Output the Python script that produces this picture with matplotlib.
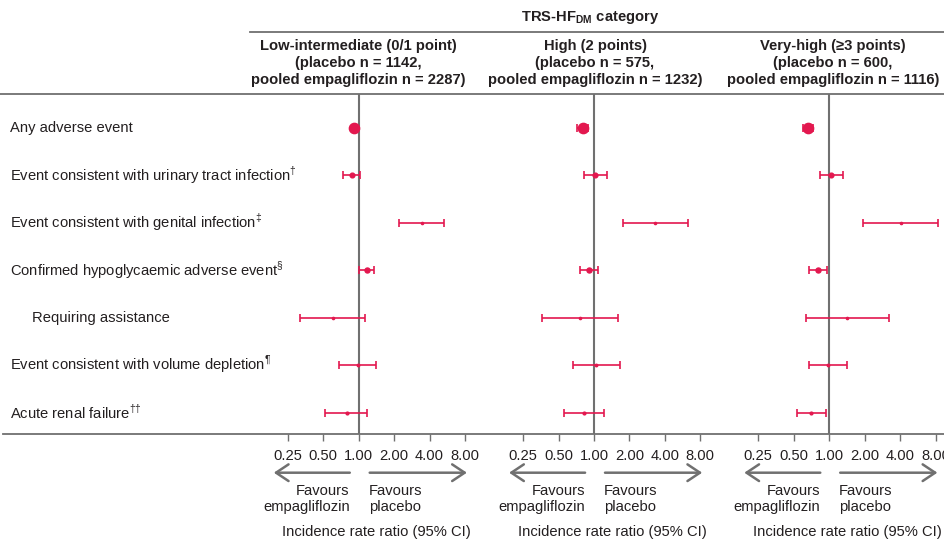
import matplotlib
matplotlib.use("Agg")
import matplotlib.pyplot as plt
from matplotlib.lines import Line2D
from matplotlib.transforms import blended_transform_factory

plt.rcParams['font.family'] = ['Liberation Sans', 'DejaVu Sans']
plt.rcParams['mathtext.fontset'] = 'custom'
plt.rcParams['mathtext.rm'] = 'Liberation Sans'
plt.rcParams['mathtext.bf'] = 'Liberation Sans:bold'

# ---------------- data ----------------
row_labels = ["Any adverse event",
              "Event consistent with urinary tract infection",
              "Event consistent with genital infection",
              "Confirmed hypoglycaemic adverse event",
              "Requiring assistance",
              "Event consistent with volume depletion",
              "Acute renal failure"]
row_marks = ["", "†", "‡", "§", "", "¶", "††"]
row_indent = [False, False, False, False, True, False, False]

panel_titles = ["Low-intermediate (0/1 point)\n(placebo n = 1142,\npooled empagliflozin n = 2287)",
                "High (2 points)\n(placebo n = 575,\npooled empagliflozin n = 1232)",
                "Very-high (≥3 points)\n(placebo n = 600,\npooled empagliflozin n = 1116)"]

low_irr = [0.92, 0.87, 3.45, 1.17, 0.60, 0.99, 0.79]
low_lo = [0.89, 0.74, 2.21, 1.01, 0.32, 0.68, 0.52]
low_hi = [0.95, 1.03, 5.34, 1.34, 1.14, 1.39, 1.18]

high_irr = [0.80, 1.02, 3.30, 0.90, 0.76, 1.03, 0.82]
high_lo = [0.72, 0.82, 1.76, 0.76, 0.36, 0.66, 0.56]
high_hi = [0.89, 1.29, 6.25, 1.08, 1.60, 1.65, 1.22]

vhigh_irr = [0.66, 1.04, 4.04, 0.80, 1.41, 0.97, 0.70]
vhigh_lo = [0.60, 0.83, 1.92, 0.67, 0.63, 0.67, 0.53]
vhigh_hi = [0.73, 1.31, 8.43, 0.955, 3.19, 1.41, 0.94]

tick_values = [0.25, 0.5, 1, 2, 4, 8]
tick_labels = ["0.25", "0.50", "1.00", "2.00", "4.00", "8.00"]

panels = [(low_irr, low_lo, low_hi),
          (high_irr, high_lo, high_hi),
          (vhigh_irr, vhigh_lo, vhigh_hi)]

# ---------------- style ----------------
W, H = 944, 540
RED = '#E3184F'
GRAY = '#707070'
TXT = '#231F20'
FS = 10.6
marker_sizes = [7.4, 3.4, 1.6, 3.6, 1.6, 1.8, 2.0]

def fx(px):
    return px / W

def fy(py):
    return 1 - py / H

fig = plt.figure(figsize=(W / 100, H / 100), dpi=100)

one_px = [358.7, 594.0, 829.2]
half_w = 117.75
top_px, bot_px = 94, 434
title_cx = [358, 595, 833]

axes = []
for p, (irr, lo, hi) in enumerate(panels):
    ax = fig.add_axes([fx(one_px[p] - half_w), fy(bot_px), 2 * half_w / W, (bot_px - top_px) / H])
    ax.set_xscale('log', base=2)
    ax.set_xlim(0.1, 10)
    ax.set_ylim(6.45, -0.71)
    ax.axvline(1, color=GRAY, lw=1.5, zorder=1)
    for i in range(len(irr)):
        ax.errorbar([irr[i]], [i], xerr=[[irr[i] - lo[i]], [hi[i] - irr[i]]],
                    fmt='o', color=RED, ms=marker_sizes[i], elinewidth=1.2,
                    capsize=3, capthick=1.2, zorder=3)
    for s in ax.spines.values():
        s.set_visible(False)
    ax.set_yticks([])
    ax.set_xticks(tick_values)
    ax.set_xticklabels(tick_labels)
    ax.minorticks_off()
    ax.tick_params(axis='x', direction='out', length=5, width=1, color=GRAY,
                   labelsize=FS, labelcolor=TXT, pad=5.5)
    ax.patch.set_alpha(0)

    # arrows
    ya = fy(472.7)
    ap = dict(arrowstyle='->,head_length=0.45,head_width=0.3', color=GRAY, lw=1.8,
              shrinkA=0, shrinkB=0, mutation_scale=20)
    ax.annotate('', xy=(0.19, ya), xytext=(0.84, ya), xycoords=('data', 'figure fraction'),
                textcoords=('data', 'figure fraction'), arrowprops=ap, annotation_clip=False)
    ax.annotate('', xy=(8.3, ya), xytext=(1.24, ya), xycoords=('data', 'figure fraction'),
                textcoords=('data', 'figure fraction'), arrowprops=ap, annotation_clip=False)

    fig.text(fx(one_px[p] - 9), fy(499), "Favours\nempagliflozin", ha='right', va='center',
             multialignment='right', fontsize=FS, color=TXT, linespacing=1.25)
    fig.text(fx(one_px[p] + 10), fy(499), "Favours\nplacebo", ha='left', va='center',
             multialignment='left', fontsize=FS, color=TXT, linespacing=1.25)
    fig.text(fx(one_px[p] + 18), fy(532), "Incidence rate ratio (95% CI)", ha='center',
             va='center', fontsize=FS, color=TXT)

    fig.text(fx(title_cx[p]), fy(63), panel_titles[p], ha='center', va='center',
             fontsize=FS, fontweight='bold', color=TXT, linespacing=1.25)
    axes.append(ax)

# row labels
tr = blended_transform_factory(fig.transFigure, axes[0].transData)
for i, lab in enumerate(row_labels):
    x0 = 32 if row_indent[i] else 10
    txt = lab + (r'$^{\mathrm{' + row_marks[i] + '}}$' if row_marks[i] else '')
    axes[0].text(fx(x0), i, txt, transform=tr, ha='left', va='center', fontsize=FS,
                 color=TXT, clip_on=False)

# overall header
fig.text(fx(590), fy(18), r'TRS-HF$_{\mathbf{DM}}$ category', ha='center', va='center',
         fontsize=FS, fontweight='bold', color=TXT)

# horizontal rules
fig.add_artist(Line2D([fx(250), 1], [fy(32), fy(32)], color=GRAY, lw=1.3))
fig.add_artist(Line2D([0, 1], [fy(94), fy(94)], color=GRAY, lw=1.3))
fig.add_artist(Line2D([fx(3), 1], [fy(434), fy(434)], color=GRAY, lw=1.3))

fig.savefig('out.png', dpi=100)
